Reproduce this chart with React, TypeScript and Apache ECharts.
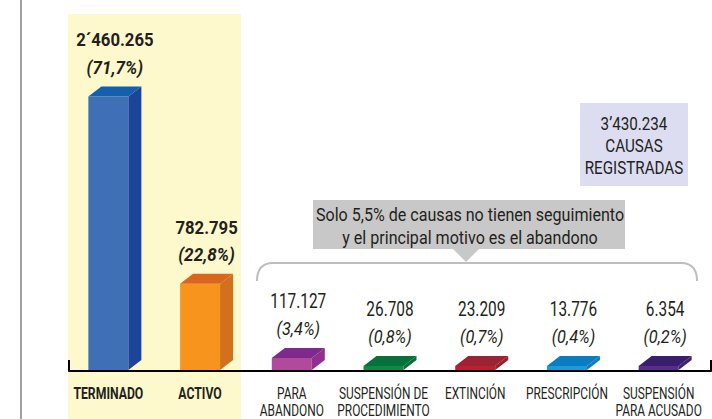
import React, { useEffect, useRef } from "react";
import * as echarts from "echarts";

const categories = [
  "TERMINADO",
  "ACTIVO",
  "PARA\nABANDONO",
  "SUSPENSIÓN DE\nPROCEDIMIENTO",
  "EXTINCIÓN",
  "PRESCRIPCIÓN",
  "SUSPENSIÓN\nPARA ACUSADO",
];
const values = [2460265, 782795, 117127, 26708, 23209, 13776, 6354];
const valueLabels = ["2´460.265", "782.795", "117.127", "26.708", "23.209", "13.776", "6.354"];
const percentLabels = ["(71,7%)", "(22,8%)", "(3,4%)", "(0,8%)", "(0,7%)", "(0,4%)", "(0,2%)"];
const boldFlags = [true, true, false, false, false, false, false];
const frontColors = ["#3F6FB5", "#F7941D", "#B04A9B", "#0D8B43", "#BE1E2D", "#1B9BD7", "#5B2C8B"];
const sideColors = ["#1C449A", "#D2701B", "#922E8E", "#0A6E35", "#9B1C2A", "#0D7DBF", "#43206E"];
const topColors = ["#1560AD", "#D9661E", "#7E2A8C", "#08703A", "#9B2335", "#0A7CC1", "#3A1E6E"];
const totalLines = ["3’430.234", "CAUSAS", "REGISTRADAS"];
const noteLines = ["Solo 5,5% de causas no tienen seguimiento", "y el principal motivo es el abandono"];

const FONT = "Roboto, 'Liberation Sans', sans-serif";
const TXT = "#231F20";

echarts.graphic.registerShape(
  "bracket",
  echarts.graphic.extendPath("M0,18 Q0,0 16,0 L424,0 Q440,0 440,18", {}) as any
);

function txt(text: string, x: number, y: number, size: number, sx: number, extra: any = {}) {
  return {
    type: "text",
    x,
    y,
    scaleX: sx,
    style: {
      text,
      fontFamily: FONT,
      fontSize: size,
      fill: TXT,
      align: "center",
      verticalAlign: "middle",
      ...extra,
    },
  };
}

export default function App() {
  const ref = useRef<HTMLDivElement>(null);
  useEffect(() => {
    if (!ref.current) return;
    const chart = echarts.init(ref.current, null, { renderer: "svg" });
    const option: any = {
      animation: false,
      backgroundColor: "#ffffff",
      grid: { left: 69, right: 1, top: 92, bottom: 48 },
      xAxis: {
        type: "category",
        data: categories,
        boundaryGap: true,
        axisLine: { lineStyle: { color: "#000", width: 2 } },
        axisTick: { show: false },
        axisLabel: { show: false },
      },
      yAxis: { type: "value", min: 0, max: 2500000, show: false, splitLine: { show: false } },
      graphic: [
        { type: "rect", z: -10, shape: { x: 68, y: 14, width: 173, height: 405 }, style: { fill: "#FEF9CD" } },
        { type: "line", shape: { x1: 21, y1: 0, x2: 21, y2: 419 }, style: { stroke: "#A0A0A0", lineWidth: 2 } },
        { type: "line", shape: { x1: 69, y1: 360, x2: 69, y2: 371 }, style: { stroke: "#000", lineWidth: 2 } },
        { type: "line", shape: { x1: 711, y1: 360, x2: 711, y2: 371 }, style: { stroke: "#000", lineWidth: 2 } },
        { type: "rect", shape: { x: 580, y: 103, width: 108, height: 83 }, style: { fill: "#DCDDF0" } },
        ...totalLines.map((t, i) => txt(t, 634, 123 + i * 22, 19, 0.8)),
        { type: "rect", shape: { x: 313, y: 200, width: 312, height: 49 }, style: { fill: "#C8C8C8" } },
        { type: "polygon", shape: { points: [[453, 249], [479, 249], [466, 262]] }, style: { fill: "#C8C8C8" } },
        ...noteLines.map((t, i) => txt(t, 470, 215 + i * 23, 18.5, 0.87)),
        {
          type: "bracket",
          x: 257,
          y: 263,
          style: { stroke: "#BEBEBE", lineWidth: 2, fill: "none" },
        },
      ],
      series: [
        {
          type: "custom",
          data: values.map((v, i) => [i, v]),
          encode: { x: 0, y: 1 },
          z: 5,
          renderItem: (params: any, api: any) => {
            const idx = api.value(0);
            const val = api.value(1);
            const top = api.coord([idx, val]);
            const base = api.coord([idx, 0]);
            const cx = top[0];
            const fw = 40, sd = 13, dy = 10;
            const x0 = cx - 26.5;
            const x1 = x0 + fw;
            const by = base[1] - 1;
            const ty = Math.min(top[1], by - 4);
            const bold = boldFlags[idx];
            const pctY = ty - dy - 19;
            const valY = pctY - 28;
            const catLines = categories[idx].split("\n");
            return {
              type: "group",
              children: [
                { type: "rect", shape: { x: x0, y: ty, width: fw, height: by - ty }, style: { fill: frontColors[idx] } },
                {
                  type: "polygon",
                  shape: { points: [[x1, ty], [x1 + sd, ty - dy], [x1 + sd, by - dy], [x1, by]] },
                  style: { fill: sideColors[idx] },
                },
                {
                  type: "polygon",
                  shape: { points: [[x0, ty], [x1, ty], [x1 + sd, ty - dy], [x0 + sd, ty - dy]] },
                  style: { fill: topColors[idx] },
                },
                txt(valueLabels[idx], cx, valY, bold ? 19 : 20, bold ? 0.88 : 0.77, {
                  fontWeight: bold ? "bold" : "normal",
                }),
                txt(percentLabels[idx], cx, pctY, bold ? 18 : 19, bold ? 0.95 : 0.86, {
                  fontStyle: "italic",
                  fontWeight: bold ? "bold" : "normal",
                }),
                ...catLines.map((l, k) =>
                  txt(l, x0 + fw / 2, base[1] + 22 + k * 17, 17, bold ? 0.72 : 0.7, {
                    fontWeight: bold ? "bold" : "normal",
                  })
                ),
              ],
            };
          },
        },
      ],
    };
    chart.setOption(option);
    return () => chart.dispose();
  }, []);
  return <div ref={ref} style={{ width: 712, height: 419, position: "fixed", left: 0, top: 0 }} />;
}
